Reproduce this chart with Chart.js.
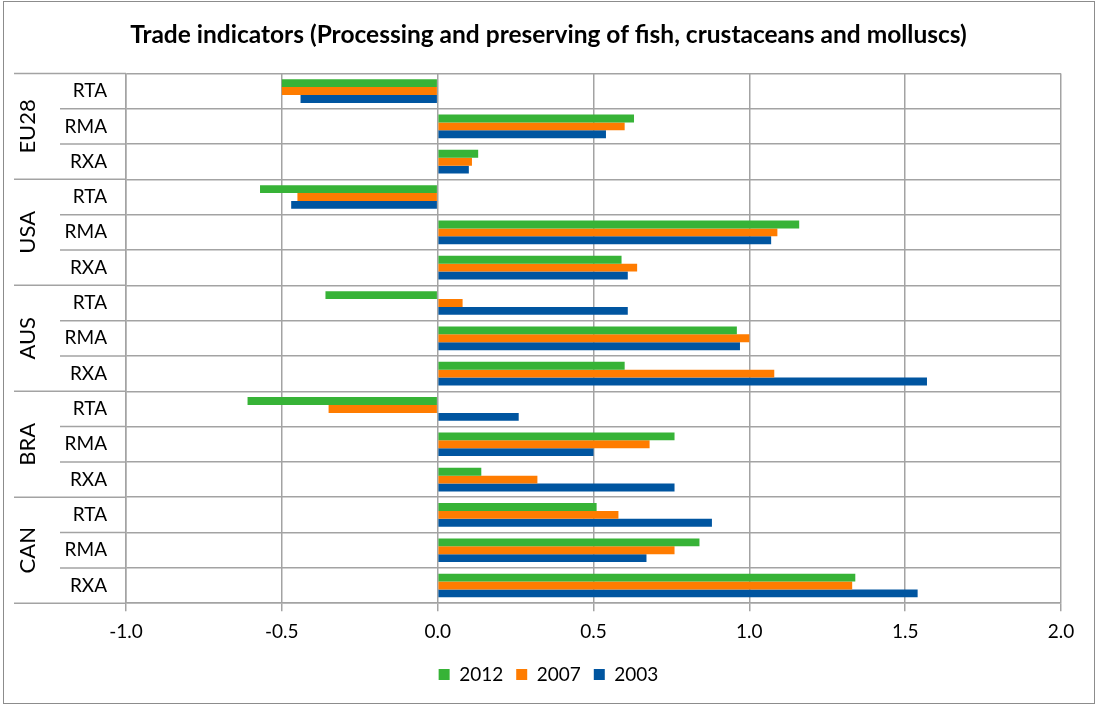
<!DOCTYPE html>
<html>
<head>
<meta charset="utf-8">
<script src="https://cdn.jsdelivr.net/npm/chart.js@4"></script>
<style>
  html, body { margin: 0; padding: 0; background: #fff; }
  #wrap { width: 1097px; height: 705px; position: relative; }
</style>
</head>
<body>
<div id="wrap"><canvas id="c" width="1097" height="705"></canvas></div>
<script>
// Countries (outer axis level) and indicators (inner axis level)
const countries = ['EU28', 'USA', 'AUS', 'BRA', 'CAN'];
const indicators = ['RTA', 'RMA', 'RXA'];
const categories = countries.flatMap(() => indicators);

// Indicator values per year, in category order (EU28 RTA ... CAN RXA)
const years = ['2012', '2007', '2003'];
const values2012 = [-0.50, 0.63, 0.13, -0.57, 1.16, 0.59, -0.36, 0.96, 0.60, -0.61, 0.76, 0.14, 0.51, 0.84, 1.34];
const values2007 = [-0.50, 0.60, 0.11, -0.45, 1.09, 0.64, 0.08, 1.00, 1.08, -0.35, 0.68, 0.32, 0.58, 0.76, 1.33];
const values2003 = [-0.44, 0.54, 0.10, -0.47, 1.07, 0.61, 0.61, 0.97, 1.57, 0.26, 0.50, 0.76, 0.88, 0.67, 1.54];

// Value axis ticks
const xTicks = [-1.0, -0.5, 0.0, 0.5, 1.0, 1.5, 2.0];

const colors = ['#37b337', '#ff7c00', '#0055a0'];
const FONT = 'Lato, "Open Sans", sans-serif';
const GRID = '#a3a3a3';

// Draws the frame, the category separators extending into the label area,
// and the rotated country labels.
const groupAxis = {
  id: 'groupAxis',
  beforeDraw(chart) {
    const ctx = chart.ctx;
    ctx.save();
    ctx.fillStyle = '#fff';
    ctx.fillRect(0, 0, chart.width, chart.height);
    ctx.strokeStyle = '#8c8c8c';
    ctx.lineWidth = 1;
    ctx.strokeRect(3.5, 1.5, chart.width - 6, chart.height - 3);
    ctx.restore();
  },
  afterDraw(chart) {
    const ctx = chart.ctx;
    const y = chart.scales.y;
    const area = chart.chartArea;
    const outerLeft = area.left - 112;
    const innerLeft = area.left - 66;
    const n = categories.length;
    ctx.save();
    ctx.strokeStyle = GRID;
    ctx.lineWidth = 1.5;
    for (let i = 0; i <= n; i++) {
      let py;
      if (i === 0) py = y.top;
      else if (i === n) py = y.bottom;
      else py = (y.getPixelForValue(i - 1) + y.getPixelForValue(i)) / 2;
      const left = (i % indicators.length === 0) ? outerLeft : innerLeft;
      ctx.beginPath();
      ctx.moveTo(left, py);
      ctx.lineTo(area.left, py);
      ctx.stroke();
    }
    ctx.fillStyle = '#000';
    ctx.font = '22px ' + FONT;
    ctx.textAlign = 'center';
    ctx.textBaseline = 'middle';
    countries.forEach((name, g) => {
      const mid = y.getPixelForValue(g * indicators.length + 1);
      ctx.save();
      ctx.translate(outerLeft + 14, mid);
      ctx.rotate(-Math.PI / 2);
      ctx.fillText(name, 0, 0);
      ctx.restore();
    });
    ctx.restore();
  }
};

new Chart(document.getElementById('c'), {
  type: 'bar',
  data: {
    labels: categories,
    datasets: [
      { label: years[0], data: values2012, backgroundColor: colors[0] },
      { label: years[1], data: values2007, backgroundColor: colors[1] },
      { label: years[2], data: values2003, backgroundColor: colors[2] }
    ]
  },
  options: {
    indexAxis: 'y',
    responsive: false,
    animation: false,
    layout: { padding: { left: 25, right: 25, bottom: 11 } },
    datasets: { bar: { categoryPercentage: 0.67, barPercentage: 1.0 } },
    scales: {
      x: {
        min: -1,
        max: 2,
        afterBuildTicks(scale) { scale.ticks = xTicks.map(v => ({ value: v })); },
        afterFit(scale) { scale.paddingRight = 36; },
        grid: { color: GRID, lineWidth: 1.5, tickLength: 8, tickColor: GRID },
        border: { color: GRID, width: 1.5 },
        ticks: {
          color: '#000',
          font: { family: FONT, size: 19 },
          padding: 9,
          callback: v => Number(v).toFixed(1)
        }
      },
      y: {
        afterFit(scale) { scale.width = 101; },
        grid: { color: GRID, lineWidth: 1.5, drawTicks: false, offset: true },
        border: { color: GRID, width: 1.5 },
        ticks: {
          color: '#000',
          font: { family: FONT, size: 19 },
          padding: 19
        }
      }
    },
    plugins: {
      title: {
        display: true,
        text: 'Trade indicators (Processing and preserving of fish, crustaceans and molluscs)',
        color: '#000',
        font: { family: FONT, size: 24.5, weight: 'bold' },
        padding: { top: 20, bottom: 24 }
      },
      legend: {
        position: 'bottom',
        labels: {
          color: '#000',
          font: { family: FONT, size: 19 },
          boxWidth: 11,
          boxHeight: 11,
          padding: 13
        }
      },
      tooltip: { enabled: false }
    }
  },
  plugins: [groupAxis]
});
</script>
</body>
</html>
